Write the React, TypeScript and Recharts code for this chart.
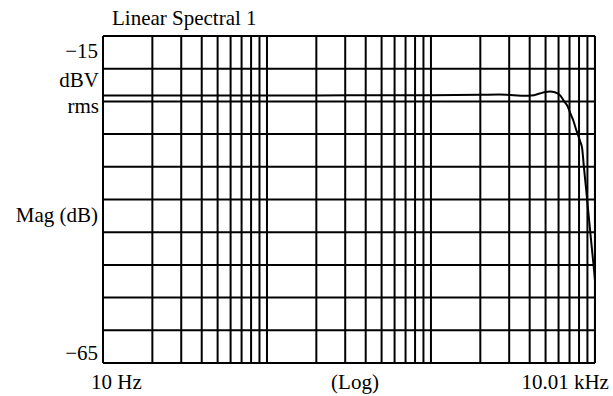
import { LineChart, Line, XAxis, YAxis, CartesianGrid } from 'recharts'

// frequency grid (Hz), log decades
const gridFreqs = [
  10, 20, 30, 40, 50, 60, 70, 80, 90,
  100, 200, 300, 400, 500, 600, 700, 800, 900,
  1000, 2000, 3000, 4000, 5000, 6000, 7000, 8000, 9000,
  10000,
]
const magTicks = [-65, -60, -55, -50, -45, -40, -35, -30, -25, -20, -15]

// trace
const freqs = [
  10, 20, 50, 100, 200, 500, 1000, 2000, 2600, 3200, 3700, 4100, 4600, 5000,
  5300, 5700, 6100, 6500, 6800, 7100, 7400, 7700, 7900, 8150, 8350, 8570,
  8820, 9070, 9330, 9590, 9870, 10000,
]
const mags = [
  -24.1, -24.1, -24.1, -24.1, -24.1, -24.05, -24.05, -24.0, -23.95, -24.05,
  -24.15, -24.1, -23.8, -23.55, -23.5, -23.6, -24.0, -25.0, -25.7, -26.9,
  -28.0, -29.4, -30.2, -31.2, -32.1, -35.1, -38.2, -41.4, -44.5, -47.6, -50.7,
  -52.3,
]

const data = freqs.map((f, i) => ({ f, mag: mags[i] }))

const FONT = 'Liberation Serif, DejaVu Serif, serif'
const FS = 21

const Txt = (p: { x: number; y: number; anchor?: 'start' | 'middle' | 'end'; children: string }) => (
  <text x={p.x} y={p.y} textAnchor={p.anchor ?? 'start'} fontFamily={FONT} fontSize={FS} fill="#000">
    {p.children}
  </text>
)

const XTick = ({ x, y, payload }: { x?: number; y?: number; payload?: { value: number } }) => {
  if (!payload || x == null || y == null) return <g />
  if (payload.value === 10) return <Txt x={x - 12} y={y + 26}>10 Hz</Txt>
  if (payload.value === 10000)
    return (
      <Txt x={x + 14} y={y + 26} anchor="end">
        10.01 kHz
      </Txt>
    )
  return <g />
}

const YTick = ({ x, y, payload }: { x?: number; y?: number; payload?: { value: number } }) => {
  if (!payload || x == null || y == null) return <g />
  if (payload.value === -15)
    return (
      <Txt x={x - 5} y={y + 22} anchor="end">
        −15
      </Txt>
    )
  if (payload.value === -65)
    return (
      <Txt x={x - 5} y={y - 3} anchor="end">
        −65
      </Txt>
    )
  return <g />
}

export default function App() {
  return (
    <div style={{ position: 'absolute', left: 0, top: 0, width: 613, height: 396, background: '#fff' }}>
      <LineChart width={613} height={396} data={data} margin={{ top: 36, right: 18, left: 0, bottom: 0 }}>
        <CartesianGrid stroke="#000" strokeWidth={2} />
        <XAxis
          dataKey="f"
          type="number"
          scale="log"
          domain={[10, 10010]}
          ticks={gridFreqs}
          interval={0}
          allowDataOverflow
          height={33}
          tickSize={0}
          tickMargin={0}
          axisLine={false}
          tickLine={false}
          tick={<XTick />}
        />
        <YAxis
          type="number"
          domain={[-65, -15]}
          ticks={magTicks}
          interval={0}
          allowDataOverflow
          width={103}
          tickSize={0}
          tickMargin={0}
          axisLine={false}
          tickLine={false}
          tick={<YTick />}
        />
        <Line
          type="monotone"
          dataKey="mag"
          stroke="#000"
          strokeWidth={2}
          dot={false}
          isAnimationActive={false}
        />
        <Txt x={112} y={25}>Linear Spectral 1</Txt>
        <Txt x={99} y={87} anchor="end">dBV</Txt>
        <Txt x={99} y={113} anchor="end">rms</Txt>
        <Txt x={98} y={222} anchor="end">Mag (dB)</Txt>
        <Txt x={355} y={389} anchor="middle">(Log)</Txt>
      </LineChart>
    </div>
  )
}
